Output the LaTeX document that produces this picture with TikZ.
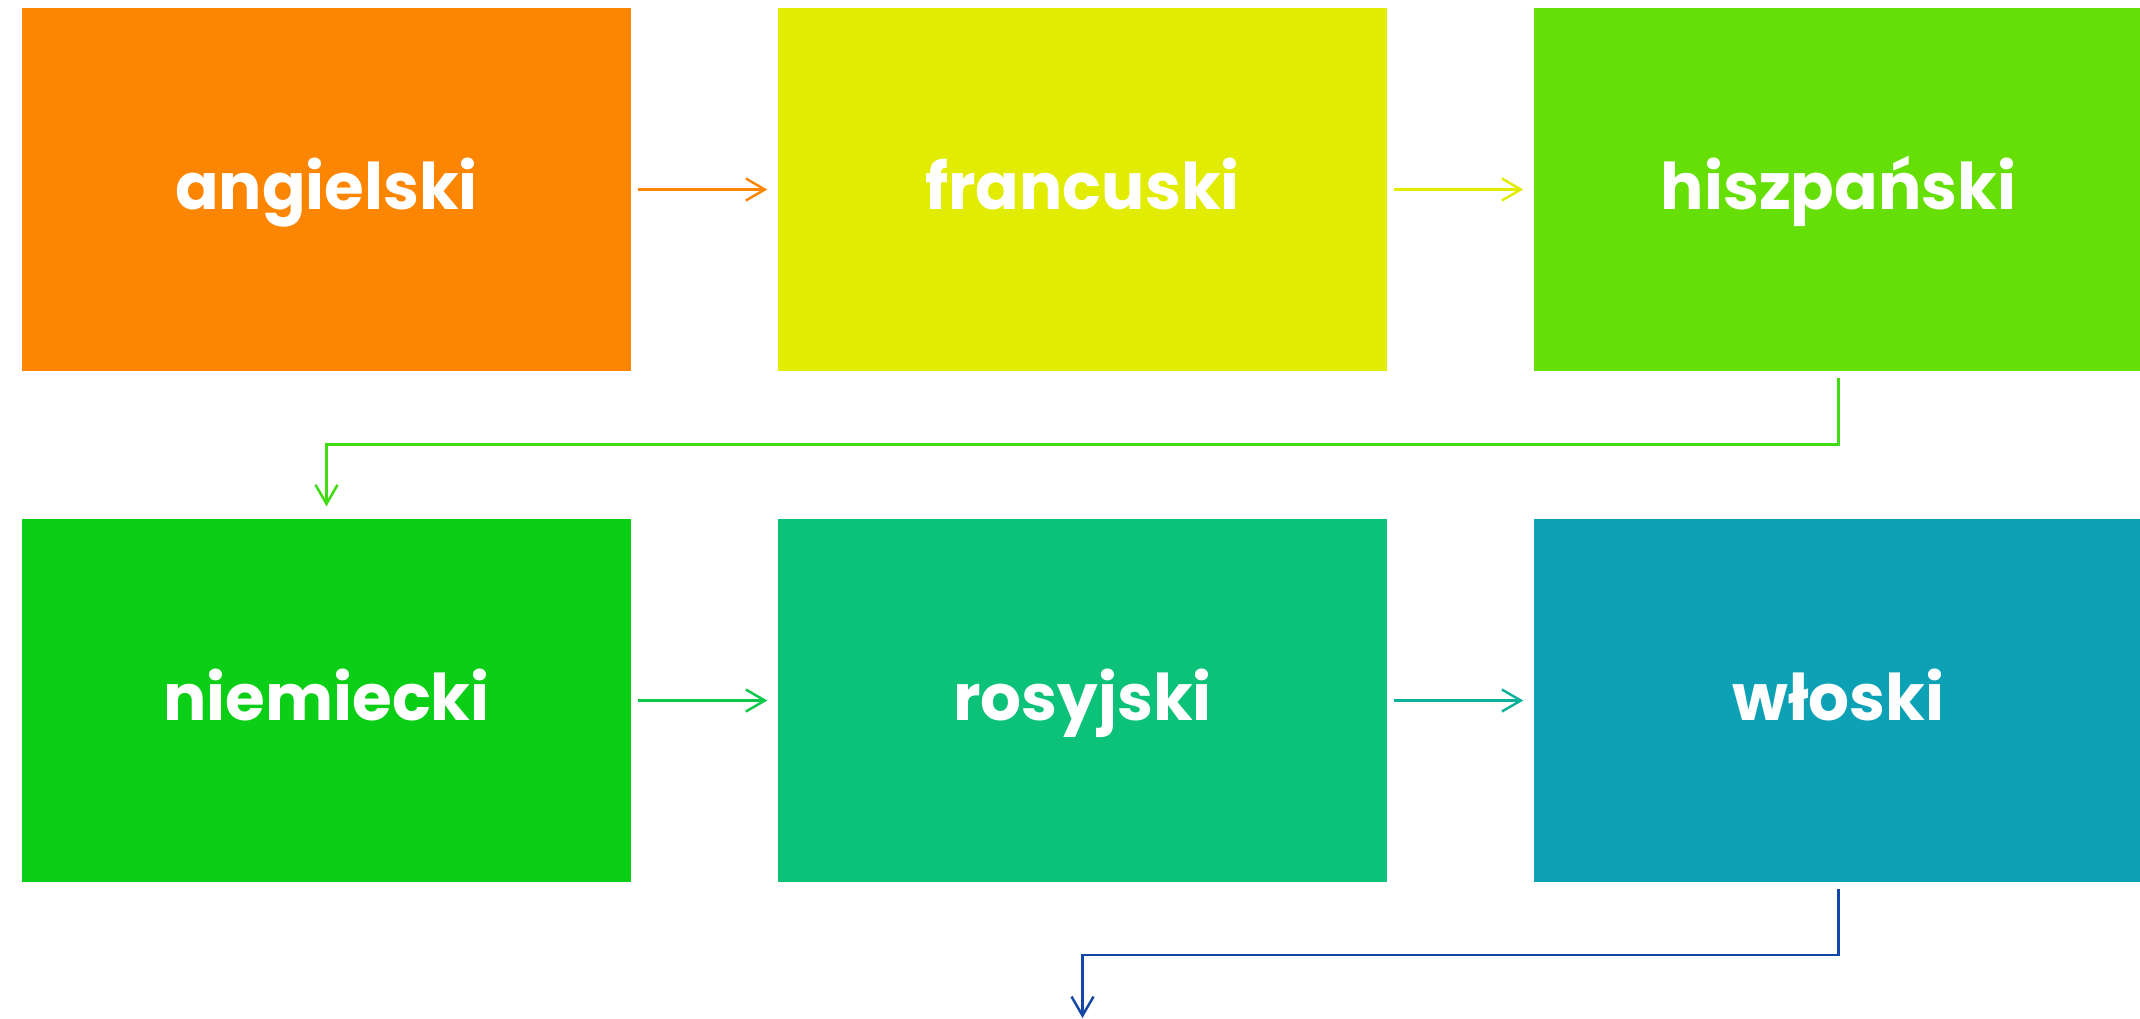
\documentclass[tikz,border=0pt]{standalone}
\usepackage{fontspec}
\setmainfont{Poppins}
\usepackage{tikz}
\usetikzlibrary{positioning, arrows.meta}

\definecolor{cEng}{HTML}{FC8502}
\definecolor{cFra}{HTML}{E1EC00}
\definecolor{cHis}{HTML}{66DF06}
\definecolor{cNie}{HTML}{0ACF16}
\definecolor{cRos}{HTML}{0CC178}
\definecolor{cWlo}{HTML}{0DA1B5}
\definecolor{cHisNie}{HTML}{3EDC0F}
\definecolor{cNieRos}{HTML}{0BC84A}
\definecolor{cRosWlo}{HTML}{0CB19A}
\definecolor{cNext}{HTML}{1247A6}

\begin{document}
\begin{tikzpicture}[node distance=7.56cm,
  lang node/.style={rectangle, inner sep=0pt, minimum width=6.09cm, minimum height=3.63cm,
    text height=0.39cm, text depth=0cm,
    text=white, font=\fontsize{18.3}{22}\selectfont\bfseries},
  link/.style={line width=0.7pt, shorten <=0.06cm, shorten >=0.1cm,
    -{Straight Barb[length=0.19cm, width=0.22cm]}}]

\useasboundingbox (0,0) rectangle (21.4,-10.18);

\node[lang node, fill=cEng] (A) at (3.265,-1.895) {angielski};
\node[lang node, fill=cFra] (B) [right of=A] {francuski};
\node[lang node, fill=cHis] (C) [right of=B] {hiszpański};
\node[lang node, fill=cNie] (D) [below of=A, node distance=5.11cm] {niemiecki};
\node[lang node, fill=cRos] (E) [right of=D] {rosyjski};
\node[lang node, fill=cWlo] (F) [right of=E] {włoski};
\coordinate (next) at (E |- 0,-10.18);

\draw[link, cEng] (A) -- (B);
\draw[link, cFra] (B) -- (C);
\draw[link, cHisNie, shorten >=0.12cm] (C.south) -- ++(0,-0.73) -| (D.north);
\draw[link, cNieRos] (D) -- (E);
\draw[link, cRosWlo] (E) -- (F);
\draw[link, cNext, shorten >=0pt] (F.south) -- ++(0,-0.72) -| (next);

\end{tikzpicture}
\end{document}
